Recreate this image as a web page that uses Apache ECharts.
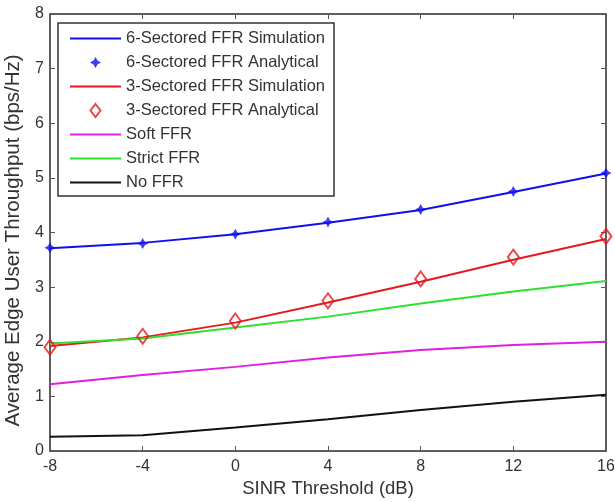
<!DOCTYPE html>
<html>
<head>
<meta charset="utf-8">
<script src="https://cdn.jsdelivr.net/npm/echarts@6/dist/echarts.min.js"></script>
<style>
html,body{margin:0;padding:0;background:#fff;}
#chart{width:615px;height:502px;}
</style>
</head>
<body>
<div id="chart"></div>
<script>
var sinr = [-8, -4, 0, 4, 8, 12, 16];
var sixSim = [3.71, 3.81, 3.97, 4.18, 4.41, 4.74, 5.08];
var sixAna = [3.72, 3.80, 3.97, 4.19, 4.42, 4.75, 5.09];
var threeSim = [1.92, 2.08, 2.35, 2.72, 3.10, 3.50, 3.88];
var threeAna = [1.90, 2.10, 2.38, 2.75, 3.15, 3.55, 3.93];
var softFFR = [1.22, 1.39, 1.54, 1.71, 1.85, 1.94, 2.00];
var strictFFR = [1.97, 2.06, 2.26, 2.46, 2.70, 2.92, 3.11];
var noFFR = [0.26, 0.29, 0.43, 0.58, 0.75, 0.90, 1.03];
var xTicks = [-8, -4, 0, 4, 8, 12, 16];
var yTicks = [0, 1, 2, 3, 4, 5, 6, 7, 8];
var names = ['6-Sectored FFR Simulation', '6-Sectored FFR Analytical', '3-Sectored FFR Simulation', '3-Sectored FFR Analytical', 'Soft FFR', 'Strict FFR', 'No FFR'];

function pairs(ys) { return sinr.map(function (x, i) { return [x, ys[i]]; }); }

var FONT = 'Liberation Sans';
var TXT = '#333333';
var AX = '#555';
var BLUE = '#1010ee', RED = '#e5191e', MAG = '#e020e0', GRN = '#2ee02e', BLK = '#111111';
var star = 'path://M0,-10 L3.6,-3.6 L10,0 L3.6,3.6 L0,10 L-3.6,3.6 L-10,0 L-3.6,-3.6 Z';
// legend icons: marker centred in a 51x14 box (zero-length end subpaths fix the box)
var starIcon = 'path://M0,7 L0,7 M51,7 L51,7 M25.5,1.5 L27.5,5 L31,7 L27.5,9 L25.5,12.5 L23.5,9 L20,7 L23.5,5 Z';
var diaIcon = 'path://M0,7 L0,7 M51,7 L51,7 M25.5,0.5 L30.5,7 L25.5,13.5 L20.5,7 Z';

function lineSeries(name, ys, color) {
  return {
    name: name, type: 'line', data: pairs(ys), symbol: 'none',
    lineStyle: { color: color, width: 2 }, itemStyle: { color: color }, z: 3
  };
}

var chart = echarts.init(document.getElementById('chart'), null, { renderer: 'canvas' });
chart.setOption({
  animation: false,
  backgroundColor: '#fff',
  textStyle: { fontFamily: FONT },
  grid: { left: 50, right: 9, top: 14, bottom: 51, show: true, borderColor: AX, borderWidth: 1.5,
    backgroundColor: '#fff', containLabel: false, outerBoundsMode: 'none' },
  legend: {
    orient: 'vertical', left: 58, top: 23,
    padding: [7, 9, 5, 11],
    itemWidth: 51, itemHeight: 14, itemGap: 7,
    borderColor: '#333', borderWidth: 1.5, backgroundColor: '#fff',
    textStyle: { fontFamily: FONT, fontSize: 16.5, color: TXT },
    data: [
      { name: names[0], itemStyle: { opacity: 0 } },
      { name: names[1], icon: starIcon },
      { name: names[2], itemStyle: { opacity: 0 } },
      { name: names[3], icon: diaIcon },
      { name: names[4], itemStyle: { opacity: 0 } },
      { name: names[5], itemStyle: { opacity: 0 } },
      { name: names[6], itemStyle: { opacity: 0 } }
    ]
  },
  xAxis: [{
    type: 'value', min: -8, max: 16, interval: 4,
    name: 'SINR Threshold (dB)', nameLocation: 'middle', nameGap: 28,
    nameTextStyle: { fontFamily: FONT, fontSize: 18.5, color: TXT },
    axisLine: { show: true, onZero: false, lineStyle: { color: AX, width: 1.5 } },
    axisTick: { show: true, inside: true, length: 5, lineStyle: { color: AX } },
    axisLabel: { fontFamily: FONT, fontSize: 16, color: TXT, margin: 8 },
    splitLine: { show: false }
  }, {
    type: 'value', min: -8, max: 16, interval: 4, position: 'top',
    axisLine: { show: true, onZero: false, lineStyle: { color: AX, width: 1.5 } },
    axisTick: { show: true, inside: true, length: 5, lineStyle: { color: AX } },
    axisLabel: { show: false }, splitLine: { show: false }
  }],
  yAxis: [{
    type: 'value', min: 0, max: 8, interval: 1,
    name: 'Average Edge User Throughput (bps/Hz)', nameLocation: 'middle', nameGap: 23,
    nameTextStyle: { fontFamily: FONT, fontSize: 20.5, color: TXT, padding: [0, 16, 0, 0] },
    axisLine: { show: true, onZero: false, lineStyle: { color: AX, width: 1.5 } },
    axisTick: { show: true, inside: true, length: 5, lineStyle: { color: AX } },
    axisLabel: { fontFamily: FONT, fontSize: 16, color: TXT, margin: 6 },
    splitLine: { show: false }
  }, {
    type: 'value', min: 0, max: 8, interval: 1, position: 'right',
    axisLine: { show: true, onZero: false, lineStyle: { color: AX, width: 1.5 } },
    axisTick: { show: true, inside: true, length: 5, lineStyle: { color: AX } },
    axisLabel: { show: false }, splitLine: { show: false }
  }],
  series: [
    lineSeries(names[0], sixSim, BLUE),
    {
      name: names[1], type: 'scatter', data: pairs(sixAna), symbol: star, symbolSize: 11,
      itemStyle: { color: BLUE }, z: 5
    },
    lineSeries(names[2], threeSim, RED),
    {
      name: names[3], type: 'scatter', data: pairs(threeAna), symbol: 'diamond', symbolSize: [11, 15],
      itemStyle: { color: 'rgba(255,255,255,0)', borderColor: RED, borderWidth: 2 }, z: 5
    },
    lineSeries(names[4], softFFR, MAG),
    lineSeries(names[5], strictFFR, GRN),
    lineSeries(names[6], noFFR, BLK)
  ]
});
</script>
</body>
</html>
